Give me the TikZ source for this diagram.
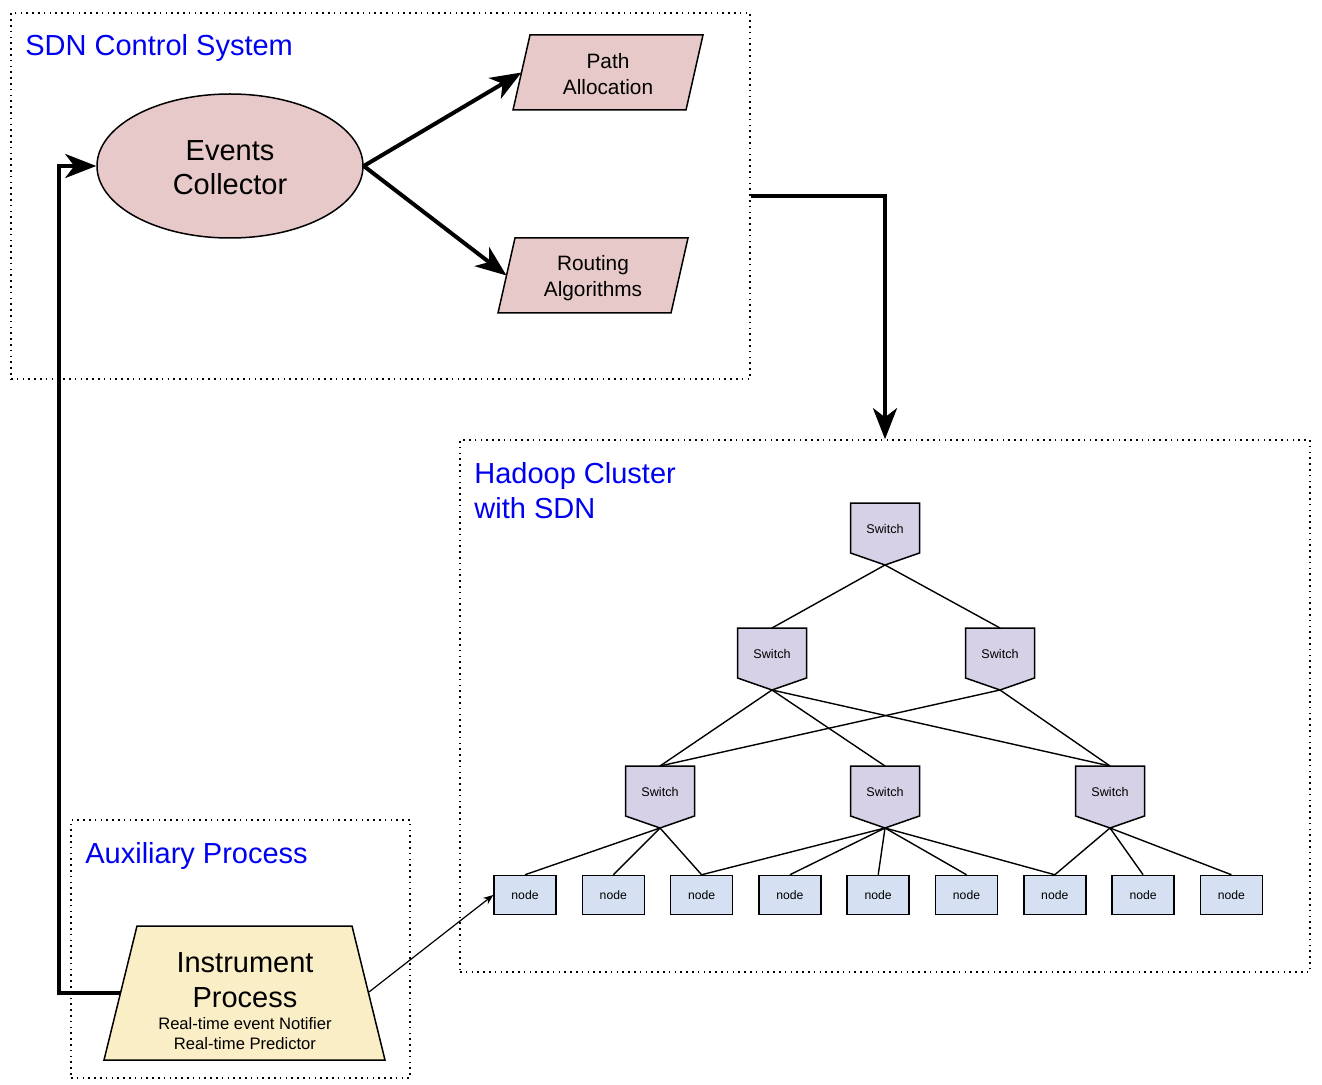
\documentclass[tikz,border=0pt]{standalone}
\usepackage{fontspec}
\setmainfont{Liberation Sans}
\usetikzlibrary{shapes.geometric,arrows.meta}
\definecolor{pinkf}{HTML}{E8C9C9}
\definecolor{swf}{HTML}{D6D1E6}
\definecolor{ndf}{HTML}{D5E1F3}
\definecolor{insf}{HTML}{FAEEC6}
\definecolor{ttl}{HTML}{0000F0}
\tikzset{
  dotbox/.style={draw, line width=0.8pt, dash pattern=on 0.8pt off 2.1pt, inner sep=0pt},
  ttlstyle/.style={text=ttl, font=\fontsize{14.5}{17.5}\selectfont, anchor=west, align=left, inner sep=0pt},
  bigarrow/.style={line width=2pt, -{Stealth[length=15.5pt,width=12pt,inset=4.5pt]}},
  thinarrow/.style={line width=0.6pt, -{Stealth[length=5pt,width=4pt]}},
  outl/.style={draw, line width=0.75pt},
  link/.style={line width=0.7pt},
  swtext/.style={font=\fontsize{6.3}{7.5}\selectfont, inner sep=0pt},
  leaf/.style={outl, fill=ndf, minimum width=31pt, minimum height=19.5pt, inner sep=0pt, font=\fontsize{6.1}{7.5}\selectfont},
  midtext/.style={font=\fontsize{10.4}{13}\selectfont, align=center, inner sep=0pt},
}
\newcommand\mkswitch[3]{%
  \draw[outl, fill=swf] (#2-34.5,#3) -- (#2+34.5,#3) -- (#2+34.5,#3+50) -- (#2,#3+62) -- (#2-34.5,#3+50) -- cycle;
  \node[swtext] (#1) at (#2,#3+25.5) {Switch};
  \coordinate (#1-t) at (#2,#3);
  \coordinate (#1-b) at (#2,#3+62);}
\begin{document}
\begin{tikzpicture}[x=0.5pt,y=-0.5pt]
\useasboundingbox (0,0) rectangle (1322,1085);
% containers
\node[dotbox, minimum width=369.5pt, minimum height=183pt] (sdn) at (380.5,196) {};
\node[dotbox, minimum width=425pt, minimum height=266pt] (had) at (885,706) {};
\node[dotbox, minimum width=169.5pt, minimum height=129pt] (aux) at (240.5,949) {};
\node[ttlstyle] (sdnt) at (25,48.5) {SDN Control System};
\node[ttlstyle] (hadt) at (474,491) {Hadoop Cluster\\with SDN};
\node[ttlstyle] (auxt) at (85,855.5) {Auxiliary Process};
% events collector
\node[ellipse, outl, fill=pinkf, minimum width=133pt, minimum height=72pt, inner sep=0pt,
      font=\fontsize{14.5}{17}\selectfont, align=center, text depth=0pt] (ev) at (230,166) {};
\node[font=\fontsize{14.5}{17}\selectfont, align=center, inner sep=0pt] (evt) at (230,168) {Events\\Collector};
% path allocation
\draw[outl, fill=pinkf] (530,35) -- (703,35) -- (686,110) -- (513,110) -- cycle;
\node[midtext] (pa) at (608,74.5) {Path\\Allocation};
\coordinate (pa-w) at (521.5,72.5);
% routing algorithms
\draw[outl, fill=pinkf] (515,238) -- (688,238) -- (671,313) -- (498,313) -- cycle;
\node[midtext] (ra) at (593,278) {Routing\\Algorithms};
\coordinate (ra-w) at (506.5,275.5);
% instrument process
\draw[outl, fill=insf] (137,926) -- (352,926) -- (385,1060) -- (104,1060) -- cycle;
\node[font=\fontsize{14.5}{17.5}\selectfont, align=center, inner sep=0pt] (ins) at (245,980) {Instrument\\Process};
\node[font=\fontsize{8.3}{10}\selectfont, align=center, inner sep=0pt] (insd) at (245,1033.5) {Real-time event Notifier\\Real-time Predictor};
\coordinate (ins-w) at (120.5,993);
\coordinate (ins-e) at (369,992);
% switches
\mkswitch{s0}{885}{503}
\mkswitch{s1}{772}{628}
\mkswitch{s2}{1000}{628}
\mkswitch{s3}{660}{766}
\mkswitch{s4}{885}{766}
\mkswitch{s5}{1110}{766}
% leaves
\foreach \i in {1,...,9} {
  \node[leaf] (n\i) at ({525+(\i-1)*88.3},895) {node};
}
% switch links
\draw[link] (s0-b) -- (s1-t);
\draw[link] (s0-b) -- (s2-t);
\draw[link] (s1-b) -- (s3-t);
\draw[link] (s1-b) -- (s4-t);
\draw[link] (s1-b) -- (s5-t);
\draw[link] (s2-b) -- (s3-t);
\draw[link] (s2-b) -- (s5-t);
\draw[link] (s3-b) -- (n1.north);
\draw[link] (s3-b) -- (n2.north);
\draw[link] (s3-b) -- (n3.north);
\draw[link] (s4-b) -- (n3.north);
\draw[link] (s4-b) -- (n4.north);
\draw[link] (s4-b) -- (n5.north);
\draw[link] (s4-b) -- (n6.north);
\draw[link] (s4-b) -- (n7.north);
\draw[link] (s5-b) -- (n7.north);
\draw[link] (s5-b) -- (n8.north);
\draw[link] (s5-b) -- (n9.north);
% big arrows
\draw[bigarrow] (ev.east) -- (pa-w);
\draw[bigarrow] (ev.east) -- (ra-w);
\draw[bigarrow] (sdn.east) -| (had.north);
\draw[bigarrow] (ins-w) -- (59,993) -- (59,166) -- (ev.west);
\draw[thinarrow] (ins-e) -- (n1.west);
\end{tikzpicture}
\end{document}
